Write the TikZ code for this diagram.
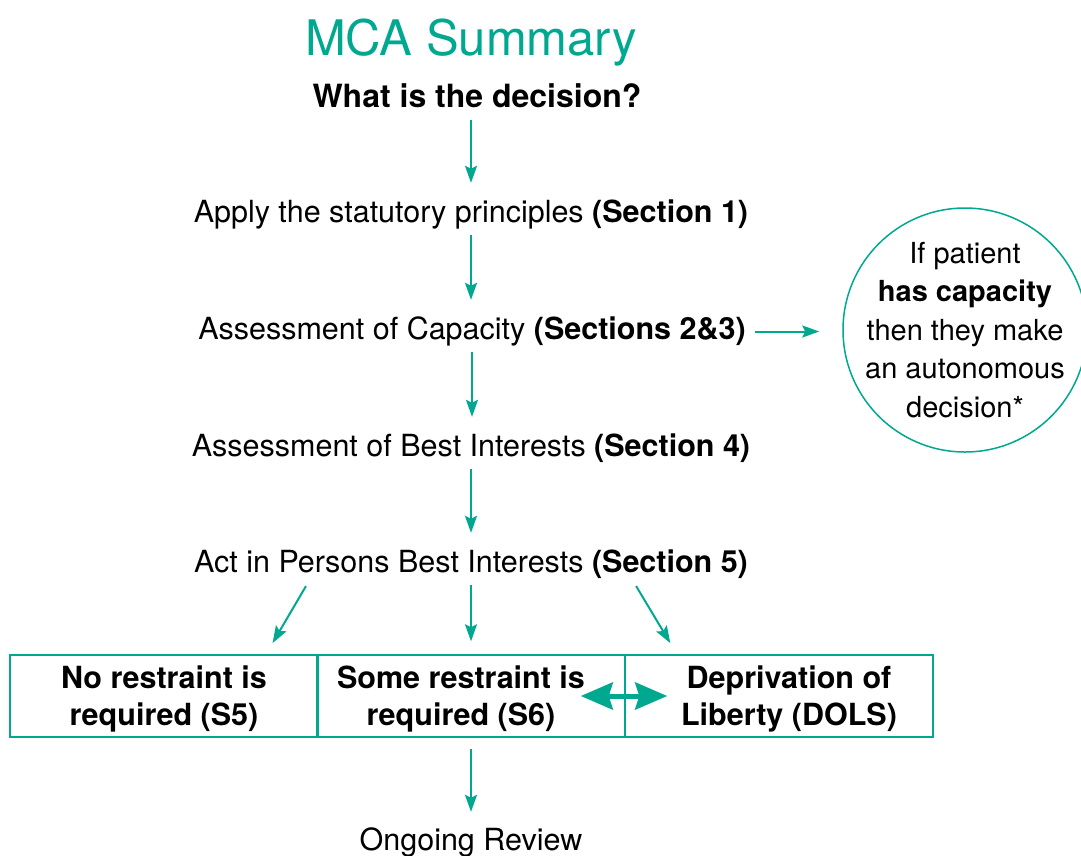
\documentclass[tikz,border=0pt]{standalone}
\usepackage{fontspec}
\setmainfont{TeX Gyre Heros}
\usepackage{tikz}
\usetikzlibrary{positioning}
\usetikzlibrary{arrows.meta}
\definecolor{mcagreen}{HTML}{00A88F}
\tikzset{
  stage/.style={font=\fontsize{30.5}{37}\selectfont, inner sep=0pt,
    text height=22pt, text depth=7pt, anchor=base},
  flow/.style={-{Stealth[length=17pt,width=12pt,inset=3pt]},
    line width=2pt, draw=mcagreen},
  outcome/.style={draw=mcagreen, line width=1.5pt, minimum width=308pt,
    minimum height=82pt, inner sep=0pt},
  outtext/.style={font=\fontsize{30.5}{37}\selectfont\bfseries, align=center,
    inner sep=0pt, yshift=-3pt},
  bigflow/.style={{Stealth[length=32pt,width=27pt,inset=4pt]}-{Stealth[length=32pt,width=27pt,inset=4pt]},
    line width=5pt, draw=mcagreen}
}

\begin{document}
\begin{tikzpicture}[x=1pt,y=-1pt]
\useasboundingbox (0,0) rectangle (1081,855);

% ---------------- Heading ----------------
\node[font=\fontsize{49}{55}\selectfont, text=mcagreen, anchor=base,
  inner sep=0pt] (title) at (471,55) {MCA Summary};
\node[stage, font=\fontsize{32}{37}\selectfont] (decision) at (477,107)
  {\textbf{What is the decision?}};

% ---------------- Main steps ----------------
\node[stage] (apply) at (471,222) {Apply the statutory principles \textbf{(Section 1)}};
\node[stage] (capacity) at (472,339) {Assessment of Capacity \textbf{(Sections 2\&3)}};
\node[stage] (bestint) at (471,456) {Assessment of Best Interests \textbf{(Section 4)}};
\node[stage] (act) at (471,572) {Act in Persons Best Interests \textbf{(Section 5)}};

% ---------------- Capacity bubble ----------------
\node[circle, draw=mcagreen, line width=1.5pt, minimum size=244pt, inner sep=0pt,
  label={[align=center, inner sep=0pt, font=\fontsize{29}{38.5}\selectfont]center:
  If patient\\\textbf{has capacity}\\then they make\\an autonomous\\decision*}]
  (autonomy) at (965,330) {};

% ---------------- Restraint boxes ----------------
\node[outcome, label={[outtext]center:No restraint is\\required (S5)}]
  (norestr) at (164,696) {};
\node[outcome, label={[outtext, xshift=-10pt]center:Some restraint is\\required (S6)}]
  (somerestr) at (471,696) {};
\node[outcome, label={[outtext, xshift=10pt]center:Deprivation of\\Liberty (DOLS)}]
  (dols) at (779,696) {};

\node[stage] (review) at (471,850) {Ongoing Review};

% ---------------- Arrows ----------------
\draw[flow, shorten <=6pt, shorten >=17pt] (decision.south -| apply.north) -- (apply.north);
\foreach \a/\b in {apply/capacity, capacity/bestint, bestint/act}{
  \draw[flow, shorten <=6pt, shorten >=17pt] (\a.south) -- (\a.south |- \b.north);
}
\draw[flow, shorten <=9pt, shorten >=23pt] (capacity.east) -- (capacity.east -| autonomy.west);

\draw[flow, shorten <=8pt, shorten >=13pt] ([xshift=-161pt]act.south) -- ([xshift=102pt]norestr.north);
\draw[flow, shorten <=6pt, shorten >=13pt] (act.south) -- (somerestr.north);
\draw[flow, shorten <=8pt, shorten >=13pt] ([xshift=161pt]act.south) -- ([xshift=-102pt]dols.north);

\draw[bigflow] ([xshift=-45pt]somerestr.east) -- ([xshift=43pt]dols.west);

\draw[flow, shorten <=11pt, shorten >=16pt] (somerestr.south) -- (review.north);

\end{tikzpicture}
\end{document}
